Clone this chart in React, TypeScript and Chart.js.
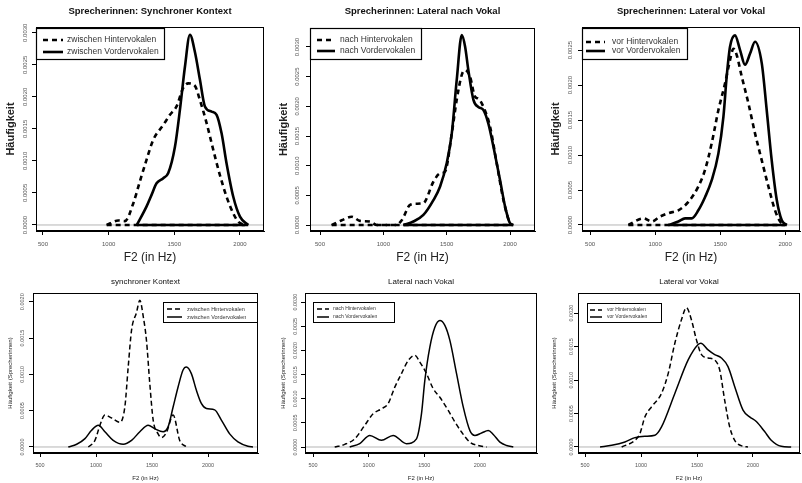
import React, { useEffect, useRef } from "react";
import { Chart, registerables } from "chart.js";
Chart.register(...registerables);

const FONT = "'Liberation Sans', Arial, sans-serif";

// ---------- tick values ----------
const xTickValues = [500, 1000, 1500, 2000];
const yTicks30 = [0, 0.0005, 0.001, 0.0015, 0.002, 0.0025, 0.003];
const yTicks25 = [0, 0.0005, 0.001, 0.0015, 0.002, 0.0025];
const yTicks20 = [0, 0.0005, 0.001, 0.0015, 0.002];

// ---------- texts ----------
const topTitles = [
  "Sprecherinnen: Synchroner Kontext",
  "Sprecherinnen: Lateral nach Vokal",
  "Sprecherinnen: Lateral vor Vokal",
];
const bottomTitles = ["synchroner Kontext", "Lateral nach Vokal", "Lateral vor Vokal"];
const labelsSynchron = ["zwischen Hintervokalen", "zwischen Vordervokalen"];
const labelsNach = ["nach Hintervokalen", "nach Vordervokalen"];
const labelsVor = ["vor Hintervokalen", "vor Vordervokalen"];
const xAxisTitle = "F2 (in Hz)";
const topYTitle = "Häufigkeit";
const bottomYTitle = "Häufigkeit (Sprecherinnen)";

// ---------- Panel 1 : Sprecherinnen, synchroner Kontext ----------
const p1HinterX = [985, 1073, 1124, 1188, 1238, 1289, 1340, 1416, 1467, 1517, 1568, 1606, 1657, 1695, 1746, 1797, 1847, 1898, 1949, 1987, 2037];
const p1HinterY = [0, 0.00007, 0.00006, 0.00034, 0.00068, 0.00102, 0.00133, 0.00156, 0.00172, 0.00185, 0.00214, 0.00221, 0.00217, 0.00195, 0.00159, 0.00117, 0.00078, 0.00044, 0.00018, 0.00005, 0];
const p1VorderX = [1215, 1289, 1327, 1365, 1416, 1454, 1505, 1543, 1581, 1619, 1657, 1695, 1733, 1784, 1822, 1860, 1898, 1949, 2000, 2063];
const p1VorderY = [0, 0.00029, 0.00047, 0.00065, 0.00073, 0.00081, 0.00122, 0.0018, 0.00247, 0.00297, 0.0027, 0.00227, 0.00185, 0.00177, 0.00172, 0.00143, 0.00096, 0.00044, 0.00013, 0];

// ---------- Panel 2 : Sprecherinnen, Lateral nach Vokal ----------
const p2HinterX = [592, 671, 750, 816, 895, 948, 1100, 1145, 1211, 1263, 1316, 1395, 1448, 1487, 1540, 1579, 1619, 1645, 1684, 1724, 1750, 1790, 1842, 1895, 1948, 2000, 2021];
const p2HinterY = [0, 0.00008, 0.00014, 0.00007, 0.00006, 0, 0, 0.00008, 0.00034, 0.00036, 0.00037, 0.00073, 0.00087, 0.0009, 0.00154, 0.00211, 0.00253, 0.00261, 0.0025, 0.00216, 0.00213, 0.00199, 0.00166, 0.00104, 0.00042, 0.00003, 0];
const p2VorderX = [1158, 1237, 1316, 1395, 1448, 1500, 1540, 1579, 1619, 1645, 1671, 1711, 1750, 1790, 1829, 1869, 1921, 1961, 2000, 2026];
const p2VorderY = [0, 0.00006, 0.00017, 0.00042, 0.00065, 0.00104, 0.00154, 0.00244, 0.0032, 0.00301, 0.00261, 0.00211, 0.00199, 0.00194, 0.00171, 0.00132, 0.00076, 0.00031, 0.00003, 0];

// ---------- Panel 3 : Sprecherinnen, Lateral vor Vokal ----------
const p3HinterX = [795, 910, 974, 1038, 1103, 1179, 1256, 1333, 1385, 1436, 1487, 1538, 1577, 1603, 1628, 1667, 1718, 1769, 1820, 1872, 1923, 1962, 2000];
const p3HinterY = [0, 0.000095, 0.00005, 0.00012, 0.00017, 0.00021, 0.00033, 0.00055, 0.00079, 0.00117, 0.00164, 0.00202, 0.00236, 0.00252, 0.00243, 0.00212, 0.00174, 0.00131, 0.00093, 0.00055, 0.00021, 0.00005, 0];
const p3VorderX = [1103, 1179, 1231, 1282, 1333, 1385, 1436, 1487, 1526, 1551, 1577, 1615, 1654, 1692, 1731, 1769, 1821, 1859, 1897, 1936, 1974, 2013];
const p3VorderY = [0, 0.00005, 0.000095, 0.000095, 0.00021, 0.0004, 0.00064, 0.00102, 0.00155, 0.00212, 0.00255, 0.00271, 0.0025, 0.00229, 0.00245, 0.00262, 0.00231, 0.00164, 0.00093, 0.00036, 0.00007, 0];

// ---------- Panel 4 : synchroner Kontext ----------
const p4HinterX = [931, 990, 1035, 1079, 1138, 1213, 1257, 1287, 1317, 1361, 1391, 1421, 1450, 1480, 1510, 1554, 1584, 1629, 1688, 1747, 1807];
const p4HinterY = [0, 0.00009, 0.0003, 0.00044, 0.0004, 0.00034, 0.00055, 0.0011, 0.00161, 0.00185, 0.00202, 0.0018, 0.00147, 0.00087, 0.00037, 0.00018, 0.00013, 0.0002, 0.00044, 0.00009, 0];
const p4VorderX = [752, 827, 901, 960, 1020, 1079, 1153, 1243, 1317, 1391, 1465, 1525, 1599, 1644, 1688, 1733, 1777, 1807, 1851, 1896, 1940, 1985, 2059, 2119, 2193, 2267, 2356, 2401];
const p4VorderY = [0, 0.000037, 0.000115, 0.00023, 0.0003, 0.00021, 0.000092, 0.000037, 0.00009, 0.00021, 0.0003, 0.00025, 0.00021, 0.00028, 0.00055, 0.00083, 0.00106, 0.0011, 0.00101, 0.00078, 0.0006, 0.00053, 0.00051, 0.00037, 0.00018, 0.00007, 0.00001, 0];

// ---------- Panel 5 : Lateral nach Vokal ----------
const p5HinterX = [695, 785, 875, 965, 1040, 1115, 1175, 1235, 1295, 1355, 1415, 1460, 1520, 1580, 1640, 1715, 1775, 1835, 1910, 1985, 2060];
const p5HinterY = [0, 0.000055, 0.00017, 0.00045, 0.00069, 0.00079, 0.0009, 0.00124, 0.00152, 0.00179, 0.0019, 0.00176, 0.00152, 0.00121, 0.00103, 0.00076, 0.00052, 0.00031, 0.0001, 0.00003, 0];
const p5VorderX = [830, 920, 1010, 1115, 1220, 1340, 1430, 1475, 1505, 1550, 1595, 1640, 1685, 1730, 1790, 1850, 1910, 1955, 2015, 2075, 2120, 2180, 2240, 2300];
const p5VorderY = [0, 0.00007, 0.00024, 0.00014, 0.00024, 0.00007, 0.00017, 0.00069, 0.00138, 0.00207, 0.00248, 0.00262, 0.00252, 0.00221, 0.00152, 0.00083, 0.00034, 0.00024, 0.00029, 0.00034, 0.00026, 0.0001, 0.00003, 0];

// ---------- Panel 6 : Lateral vor Vokal ----------
const p6HinterX = [827, 946, 990, 1035, 1094, 1183, 1243, 1302, 1361, 1406, 1450, 1495, 1540, 1599, 1658, 1703, 1747, 1792, 1837, 1911, 1955];
const p6HinterY = [0, 0.0001, 0.0002, 0.00045, 0.0006, 0.0008, 0.0011, 0.00155, 0.0019, 0.00208, 0.0019, 0.0016, 0.00138, 0.00133, 0.0013, 0.00115, 0.0007, 0.0003, 0.0001, 0.00001, 0];
const p6VorderX = [634, 738, 856, 946, 1035, 1124, 1183, 1302, 1421, 1510, 1534, 1599, 1658, 1718, 1777, 1837, 1911, 1970, 2030, 2104, 2163, 2252, 2341];
const p6VorderY = [0, 0.000025, 0.000075, 0.00014, 0.00016, 0.000175, 0.0003, 0.0008, 0.0013, 0.00153, 0.00155, 0.00145, 0.00138, 0.00133, 0.0012, 0.0009, 0.00055, 0.00045, 0.00038, 0.00023, 0.0001, 0.00001, 0];

type Series = { x: number[]; y: number[]; dashed: boolean; label: string };
type Panel = {
  canvas: { x: number; y: number; w: number; h: number };
  box: { l: number; t: number; r: number; b: number };
  xMin: number; xMax: number; yMin: number; yMax: number;
  yTicks: number[];
  series: Series[];
  closed: boolean;
  lw: number; dash: number[];
  title: string; titleY: number; titleFont: string;
  xTitleY: number; xTitleFont: string;
  yTitle: string; yTitleX: number; yTitleFont: string;
  yTickX: number; tickSize: number; tickPad: number;
  legend: { l: number; t: number; r: number; b: number; s0: number; s1: number; tx: number; rows: number[]; font: string; boxLw: number };
  boxLw: number;
};

const mk = (x: number[], y: number[], dashed: boolean, label: string): Series => ({ x, y, dashed, label });

const topCommon = {
  closed: true, lw: 2.6, dash: [5, 4],
  titleY: 11, titleFont: `bold 9.5px ${FONT}`,
  xTitleY: 258, xTitleFont: `12px ${FONT}`,
  yTitle: topYTitle, yTitleFont: `bold 11px ${FONT}`,
  tickSize: 6, tickPad: 6, boxLw: 1,
};
const botCommon = {
  closed: false, lw: 1.5, dash: [5, 3],
  titleY: 282, titleFont: `8px ${FONT}`,
  xTitleY: 478, xTitleFont: `6px ${FONT}`,
  yTitle: bottomYTitle, yTitleFont: `6px ${FONT}`,
  tickSize: 5.5, tickPad: 5, boxLw: 1,
};

const panels: Panel[] = [
  {
    ...topCommon,
    canvas: { x: 0, y: 0, w: 268, h: 268 }, box: { l: 36, t: 27, r: 264, b: 231 },
    xMin: 447, xMax: 2183, yMin: -0.000094, yMax: 0.00309, yTicks: yTicks30,
    series: [mk(p1HinterX, p1HinterY, true, labelsSynchron[0]), mk(p1VorderX, p1VorderY, false, labelsSynchron[1])],
    title: topTitles[0], yTitleX: 11, yTickX: 25,
    legend: { l: 36, t: 28, r: 165, b: 60, s0: 43, s1: 63, tx: 67, rows: [40, 52], font: `8.5px ${FONT}`, boxLw: 1.2 },
  },
  {
    ...topCommon,
    canvas: { x: 268, y: 0, w: 272, h: 268 }, box: { l: 310, t: 28, r: 535, b: 231 },
    xMin: 421, xMax: 2197, yMin: -0.0001, yMax: 0.00332, yTicks: yTicks30,
    series: [mk(p2HinterX, p2HinterY, true, labelsNach[0]), mk(p2VorderX, p2VorderY, false, labelsNach[1])],
    title: topTitles[1], yTitleX: 284, yTickX: 297,
    legend: { l: 310, t: 28, r: 422, b: 60, s0: 317, s1: 335, tx: 340, rows: [40, 51], font: `8.5px ${FONT}`, boxLw: 1.2 },
  },
  {
    ...topCommon,
    canvas: { x: 540, y: 0, w: 262, h: 268 }, box: { l: 582, t: 27, r: 800, b: 231 },
    xMin: 438, xMax: 2115, yMin: -0.000086, yMax: 0.00283, yTicks: yTicks25,
    series: [mk(p3HinterX, p3HinterY, true, labelsVor[0]), mk(p3VorderX, p3VorderY, false, labelsVor[1])],
    title: topTitles[2], yTitleX: 556, yTickX: 570,
    legend: { l: 582, t: 28, r: 688, b: 60, s0: 586, s1: 605, tx: 612, rows: [42, 51], font: `8.5px ${FONT}`, boxLw: 1.2 },
  },
  {
    ...botCommon,
    canvas: { x: 0, y: 268, w: 268, h: 215 }, box: { l: 33, t: 293, r: 258, b: 453 },
    xMin: 437, xMax: 2446, yMin: -0.000083, yMax: 0.00212, yTicks: yTicks20,
    series: [mk(p4HinterX, p4HinterY, true, labelsSynchron[0]), mk(p4VorderX, p4VorderY, false, labelsSynchron[1])],
    title: bottomTitles[0], yTitleX: 10, yTickX: 22,
    legend: { l: 163, t: 302, r: 258, b: 323, s0: 167, s1: 182, tx: 187, rows: [309, 317], font: `5.5px ${FONT}`, boxLw: 1 },
  },
  {
    ...botCommon,
    canvas: { x: 268, y: 268, w: 272, h: 215 }, box: { l: 305, t: 293, r: 537, b: 453 },
    xMin: 428, xMax: 2513, yMin: -0.000124, yMax: 0.00319, yTicks: yTicks30,
    series: [mk(p5HinterX, p5HinterY, true, labelsNach[0]), mk(p5VorderX, p5VorderY, false, labelsNach[1])],
    title: bottomTitles[1], yTitleX: 283, yTickX: 295,
    legend: { l: 313, t: 302, r: 395, b: 323, s0: 317, s1: 329, tx: 333, rows: [309, 317], font: `5px ${FONT}`, boxLw: 1 },
  },
  {
    ...botCommon,
    canvas: { x: 540, y: 268, w: 262, h: 215 }, box: { l: 578, t: 293, r: 800, b: 453 },
    xMin: 437, xMax: 2420, yMin: -0.00009, yMax: 0.0023, yTicks: yTicks20,
    series: [mk(p6HinterX, p6HinterY, true, labelsVor[0]), mk(p6VorderX, p6VorderY, false, labelsVor[1])],
    title: bottomTitles[2], yTitleX: 554, yTickX: 571,
    legend: { l: 587, t: 303, r: 662, b: 323, s0: 590, s1: 602, tx: 607, rows: [310, 317], font: `5px ${FONT}`, boxLw: 1 },
  },
];

function buildDatasets(p: Panel) {
  const ds: any[] = [
    {
      data: [{ x: p.xMin, y: 0 }, { x: p.xMax, y: 0 }],
      borderColor: "#b5b5b5", borderWidth: 1, pointRadius: 0, tension: 0, order: 10,
    },
  ];
  p.series.forEach((s) => {
    const style = {
      borderColor: "#000", borderWidth: p.lw, borderDash: s.dashed ? p.dash : [],
      borderCapStyle: "butt", pointRadius: 0, fill: false, order: s.dashed ? 2 : 1,
    };
    ds.push({ ...style, data: s.x.map((x, i) => ({ x, y: s.y[i] })), cubicInterpolationMode: "monotone" });
    if (p.closed) {
      ds.push({ ...style, tension: 0, data: [{ x: s.x[0], y: 0 }, { x: s.x[s.x.length - 1], y: 0 }] });
    }
  });
  return ds;
}

function makeDecor(p: Panel) {
  return {
    id: "decor",
    afterDraw(chart: any) {
      const ctx: CanvasRenderingContext2D = chart.ctx;
      const ca = chart.chartArea;
      const ox = p.canvas.x, oy = p.canvas.y;
      const cx = (ca.left + ca.right) / 2;
      ctx.save();
      ctx.setLineDash([]);
      ctx.strokeStyle = "#000";
      ctx.lineWidth = p.boxLw;
      ctx.strokeRect(ca.left + 0.5, ca.top + 0.5, ca.right - ca.left - 1, ca.bottom - ca.top - 1);

      ctx.fillStyle = "#111";
      ctx.textAlign = "center";
      ctx.textBaseline = "middle";
      ctx.font = p.titleFont;
      ctx.fillText(p.title, cx, p.titleY - oy);
      ctx.font = p.xTitleFont;
      ctx.fillStyle = "#222";
      ctx.fillText(xAxisTitle, cx, p.xTitleY - oy);

      ctx.save();
      ctx.translate(p.yTitleX - ox, (ca.top + ca.bottom) / 2);
      ctx.rotate(-Math.PI / 2);
      ctx.font = p.yTitleFont;
      ctx.fillText(p.yTitle, 0, 0);
      ctx.restore();

      const ys = chart.scales.y;
      ctx.font = `${p.tickSize}px ${FONT}`;
      ctx.fillStyle = "#555";
      p.yTicks.forEach((v) => {
        const py = ys.getPixelForValue(v);
        ctx.save();
        ctx.translate(p.yTickX - ox, py);
        ctx.rotate(-Math.PI / 2);
        ctx.fillText(v.toFixed(4), 0, 0);
        ctx.restore();
      });

      const L = p.legend;
      ctx.fillStyle = "#fff";
      ctx.fillRect(L.l - ox, L.t - oy, L.r - L.l, L.b - L.t);
      ctx.strokeStyle = "#000";
      ctx.lineWidth = L.boxLw;
      ctx.strokeRect(L.l - ox + 0.5, L.t - oy + 0.5, L.r - L.l - 1, L.b - L.t - 1);
      p.series.forEach((s, i) => {
        const y = L.rows[i] - oy;
        ctx.beginPath();
        ctx.setLineDash(s.dashed ? p.dash : []);
        ctx.lineWidth = p.lw;
        ctx.moveTo(L.s0 - ox, y);
        ctx.lineTo(L.s1 - ox, y);
        ctx.stroke();
        ctx.setLineDash([]);
        ctx.fillStyle = "#333";
        ctx.font = L.font;
        ctx.textAlign = "left";
        ctx.fillText(s.label, L.tx - ox, y);
      });
      ctx.restore();
    },
  };
}

function PanelChart({ p }: { p: Panel }) {
  const ref = useRef<HTMLCanvasElement>(null);
  useEffect(() => {
    if (!ref.current) return;
    const chart = new Chart(ref.current, {
      type: "line",
      data: { datasets: buildDatasets(p) },
      options: {
        animation: false,
        responsive: false,
        devicePixelRatio: 1,
        layout: {
          padding: {
            left: 0, bottom: 0,
            top: p.box.t - p.canvas.y,
            right: p.canvas.x + p.canvas.w - p.box.r,
          },
        },
        plugins: { legend: { display: false }, title: { display: false }, tooltip: { enabled: false } },
        scales: {
          x: {
            type: "linear", min: p.xMin, max: p.xMax,
            afterBuildTicks: (s: any) => { s.ticks = xTickValues.map((v) => ({ value: v })); },
            afterFit: (s: any) => { s.height = p.canvas.y + p.canvas.h - p.box.b; },
            grid: { drawOnChartArea: false, drawTicks: true, tickLength: 4, color: "#000", tickColor: "#000" },
            border: { display: true, color: "#000" },
            ticks: {
              autoSkip: false, maxRotation: 0, minRotation: 0, padding: p.tickPad, color: "#555",
              font: { size: p.tickSize, family: FONT },
              callback: (v: any) => String(v),
            },
          },
          y: {
            type: "linear", min: p.yMin, max: p.yMax,
            afterBuildTicks: (s: any) => { s.ticks = p.yTicks.map((v) => ({ value: v })); },
            afterFit: (s: any) => { s.width = p.box.l - p.canvas.x; },
            grid: { drawOnChartArea: false, drawTicks: true, tickLength: 4, color: "#000", tickColor: "#000" },
            border: { display: true, color: "#000" },
            ticks: { display: false },
          },
        },
      } as any,
      plugins: [makeDecor(p)],
    });
    return () => chart.destroy();
  }, [p]);
  return (
    <canvas
      ref={ref}
      width={p.canvas.w}
      height={p.canvas.h}
      style={{ position: "absolute", left: p.canvas.x, top: p.canvas.y, width: p.canvas.w, height: p.canvas.h }}
    />
  );
}

export default function App() {
  return (
    <div style={{ position: "fixed", left: 0, top: 0, width: 802, height: 483, background: "#fff", overflow: "hidden" }}>
      {panels.map((p, i) => (
        <PanelChart key={i} p={p} />
      ))}
    </div>
  );
}
